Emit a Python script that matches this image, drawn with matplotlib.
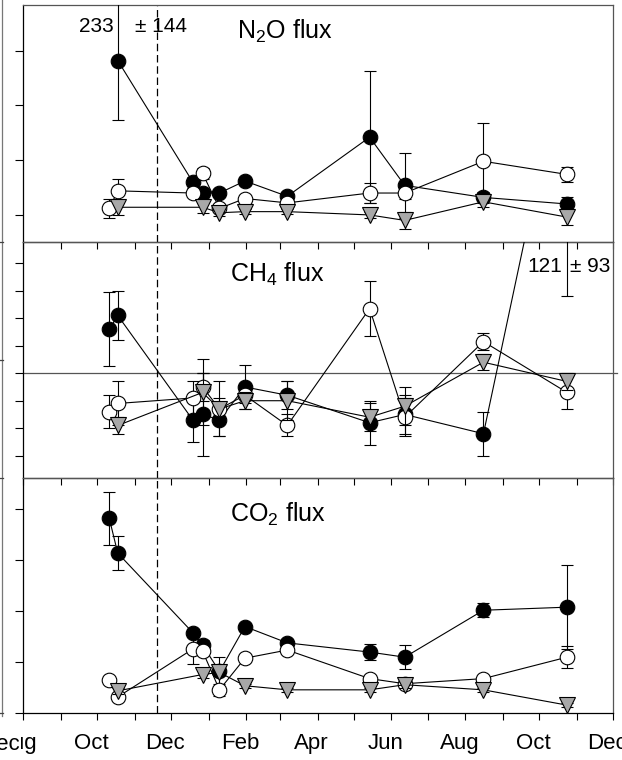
import matplotlib
matplotlib.use("Agg")
import matplotlib.pyplot as plt
import matplotlib.transforms as mtransforms
from matplotlib.lines import Line2D
import numpy as np
import pandas as pd

plt.rcParams['font.family'] = ['Liberation Sans', 'DejaVu Sans']
plt.rcParams['mathtext.fontset'] = 'custom'
plt.rcParams['mathtext.rm'] = 'Liberation Sans'
plt.rcParams['mathtext.it'] = 'Liberation Sans:italic'

# sampling dates
dates = pd.to_datetime(["2010-10-11", "2010-10-18", "2010-12-19", "2010-12-27",
                        "2011-01-10", "2011-01-31", "2011-03-07", "2011-05-14",
                        "2011-06-12", "2011-08-16", "2011-10-24"])
nan = np.nan
cut_date = pd.Timestamp("2010-11-19")

# N2O flux (black = filled circles, open = open circles, tri = grey triangles)
n2o_black = [nan, 141, 30, 20, 20, 31, 17, 71, 27, 16, 10]
n2o_black_err = [nan, 54, 5, 5, 3, 4, 3, 60, 30, 5, 6]
n2o_open = [6, 22, 20, 38, 6, 15, 11, 20, 20, 49, 37]
n2o_open_err = [9, 11, 3, 5, 3, 3, 3, 9, 5, 35, 7]
n2o_tri = [nan, 7, nan, 7, 2, 3, 3, 0, -5, 12, -2]
n2o_tri_err = [nan, 7, nan, 5, 3, 2, 2, 3, 8, 5, 7]

# CH4 flux
ch4_black = [16, 21, -17, -15, -17, -5, -8, -18, -15, -22, 121]
ch4_black_err = [13.5, 9, 8, 15, 6, 8, 5, 8, 7, 8, 93]
ch4_open = [-14, -11, -9, -5, -13, -8, -19, 23.5, -16, 11.5, -7]
ch4_open_err = [6, 8, 6, 5, 4, 3, 4, 10, 7, 3, 6]
ch4_tri = [nan, -19, nan, -7, -13, -10, -10, -16, -12, 4, -3]
ch4_tri_err = [nan, 3, nan, 12, 10, 3, 7, 5, 7, 3, 3]

# CO2 flux
co2_black = [191, 157, 79, 67, 41, 85, 69, 60, 55, 101, 104]
co2_black_err = [26, 17, 4, 5, 14, 3, 4, 8, 12, 7, 41]
co2_open = [33, 16, 63, 61, 23, 54, 62, 34, 29, 34, 55]
co2_open_err = [3, 3, 15, 4, 6, 3, 3, 3, 3, 3, 11]
co2_tri = [nan, 22, nan, 38, 40, 27, 23, 23, 28, 23, 8]
co2_tri_err = [nan, 3, nan, 3, 3, 2, 2, 2, 3, 2, 2]

labels = ["N$_2$O flux", "CH$_4$ flux", "CO$_2$ flux"]
ylims = [(-25, 192), (-38.1, 47.6), (0, 230.6)]
yticks = [[0, 50, 100, 150], [-30, -20, -10, 0, 10, 20, 30, 40], [0, 50, 100, 150, 200]]

fig = plt.figure(figsize=(6.22, 7.60), dpi=100)
left, width = 0.03746, 0.9481
boxes = [[left, 0.68118, width, 0.31263],
         [left, 0.37105, width, 0.31013],
         [left, 0.06145, width, 0.30961]]
axes = [fig.add_axes(b) for b in boxes]

panels = [
    (n2o_black, n2o_black_err, n2o_open, n2o_open_err, n2o_tri, n2o_tri_err),
    (ch4_black, ch4_black_err, ch4_open, ch4_open_err, ch4_tri, ch4_tri_err),
    (co2_black, co2_black_err, co2_open, co2_open_err, co2_tri, co2_tri_err),
]

styles = [dict(marker='o', mfc='black', ms=10.5),
          dict(marker='o', mfc='white', ms=10.5),
          dict(marker='v', mfc='#a8a8a8', ms=11.5)]

months = pd.date_range("2010-08-01", "2011-12-01", freq="MS")
month_labels = [m.strftime('%b') if m.month % 2 == 0 else '' for m in months]

for i, (ax, data) in enumerate(zip(axes, panels)):
    for j in range(3):
        vals = np.array(data[2 * j], dtype=float)
        errs = np.array(data[2 * j + 1], dtype=float)
        m = ~np.isnan(vals)
        ax.errorbar(dates[m], vals[m], yerr=errs[m], color='black', lw=0.8,
                    mec='black', mew=0.8, ecolor='black', elinewidth=0.8,
                    capsize=4.5, capthick=0.8, zorder=3 + j, **styles[j])
    ax.axvline(cut_date, color='black', lw=0.9, ls=(0, (6, 3)), zorder=2)
    ax.set_xlim(pd.Timestamp("2010-08-01"), pd.Timestamp("2011-12-01"))
    ax.set_ylim(*ylims[i])
    ax.set_yticks(yticks[i])
    ax.set_xticks(months)
    ax.set_xticklabels(month_labels)
    ax.tick_params(axis='x', direction='out', length=5, width=0.8, labelsize=16, pad=9.5)
    ax.tick_params(axis='y', direction='out', length=5.5, width=0.8, labelleft=False)
    if i < 2:
        ax.tick_params(axis='x', labelbottom=False)
    for s in ['left', 'bottom']:
        ax.spines[s].set_linewidth(0.9)
    for s in ['top', 'right']:
        ax.spines[s].set_linewidth(0.9)
        ax.spines[s].set_color('#555555')
    ax.set_facecolor('none')

axes[0].text(0.3624, 0.8556, labels[0], transform=axes[0].transAxes, fontsize=18, va='baseline')
axes[1].text(0.3505, 0.8328, labels[1], transform=axes[1].transAxes, fontsize=18, va='baseline')
axes[2].text(0.3505, 0.8143, labels[2], transform=axes[2].transAxes, fontsize=18, va='baseline')

# zero line, running slightly past the right frame as in the original
axes[1].axhline(0, xmin=0, xmax=1.007, color='#555555', lw=0.9, zorder=1, clip_on=False)

# off-scale values written next to their error bars
axes[0].annotate("233", xy=(dates[1], 172.4), xytext=(-4, 0), textcoords='offset pixels',
                 ha='right', va='center', fontsize=15)
axes[0].annotate("\u00b1 144", xy=(dates[1], 172.4), xytext=(17, 0), textcoords='offset pixels',
                 ha='left', va='center', fontsize=15)
axes[1].annotate("121", xy=(dates[10], 38.9), xytext=(-5, 0), textcoords='offset pixels',
                 ha='right', va='center', fontsize=15)
axes[1].annotate("\u00b1 93", xy=(dates[10], 38.9), xytext=(3, 0), textcoords='offset pixels',
                 ha='left', va='center', fontsize=15)

# shift month labels a little to the left, as in the original
shift = mtransforms.ScaledTranslation(-6 / 100, 0, fig.dpi_scale_trans)
for lab in axes[2].get_xticklabels():
    lab.set_transform(lab.get_transform() + shift)

# bits of the neighbouring panel at the left edge
W, H = 622, 760
fig.add_artist(Line2D([2 / W, 2 / W], [1, 1 - 716 / H], transform=fig.transFigure,
                      color='#777777', lw=0.9))
for yy in [242, 360, 478, 713]:
    fig.add_artist(Line2D([0, 3 / W], [1 - yy / H, 1 - yy / H], transform=fig.transFigure,
                          color='#444444', lw=0.9))
fig.text(20 / W, 1 - 745 / H, "Dec", ha='right', va='center', fontsize=16,
         bbox=dict(facecolor='white', edgecolor='none', pad=0.5))

fig.savefig('out.png', dpi=100)
